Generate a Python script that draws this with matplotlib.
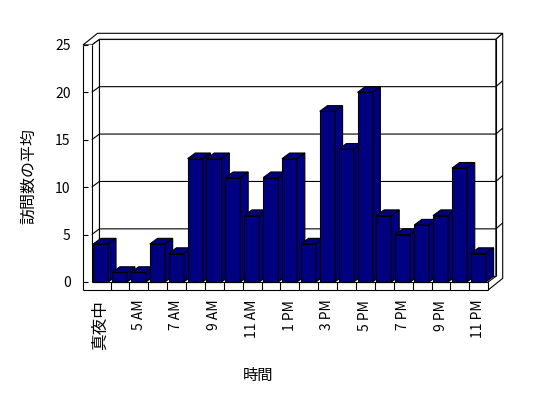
import numpy as np
import matplotlib
matplotlib.use("Agg")
import matplotlib.pyplot as plt
from matplotlib.patches import Polygon

plt.rcParams['font.family'] = ['Noto Sans CJK JP', 'DejaVu Sans']

# data: average visits per hour
hours = ['真夜中', '4 AM', '5 AM', '6 AM', '7 AM', '8 AM', '9 AM', '10 AM', '11 AM',
         '12 PM', '1 PM', '2 PM', '3 PM', '4 PM', '5 PM', '6 PM', '7 PM', '8 PM',
         '9 PM', '10 PM', '11 PM']
visits = [4, 1, 1, 4, 3, 13, 13, 11, 7, 11, 13, 4, 18, 14, 20, 7, 5, 6, 7, 12, 3]
yticks = [0, 5, 10, 15, 20, 25]

n = len(hours)
ymax = 25
# fake 3d offsets (data units)
Dx, Dy = 0.41, 0.60    # depth
Tx, Ty = 0.36, 0.63    # back wall thickness
W = 0.46               # left wall thickness
F = 0.85               # floor thickness
navy = '#000080'
lw = 0.8

fig = plt.figure(figsize=(5.48, 3.98), dpi=100)
ax = fig.add_axes([83/548, 1 - 290/398, (502.7 - 83)/548, (290 - 33.3)/398])
ax.set_xlim(-W, n + Dx + Tx)
ax.set_ylim(-F, ymax + Dy + Ty)
for s in ax.spines.values():
    s.set_visible(False)


def poly(pts, fc='white', z=1):
    ax.add_patch(Polygon(pts, closed=True, facecolor=fc, edgecolor='black',
                         linewidth=lw, zorder=z, clip_on=False))


def seg(xs, ys, z=2):
    ax.plot(xs, ys, color='black', lw=lw, zorder=z, clip_on=False,
            solid_capstyle='butt')


# walls and floor
poly([(Dx, Dy), (n + Dx, Dy), (n + Dx, ymax + Dy), (Dx, ymax + Dy)])          # back wall
poly([(0, 0), (Dx, Dy), (Dx, ymax + Dy), (0, ymax)])                          # left wall inner
poly([(-W, ymax), (0, ymax), (Dx, ymax + Dy), (n + Dx, ymax + Dy),
      (n + Dx + Tx, ymax + Dy + Ty), (-W + Dx + Tx, ymax + Dy + Ty)])          # top edges
poly([(n, -F), (n + Dx + Tx, -F + Dy + Ty), (n + Dx + Tx, ymax + Dy + Ty),
      (n + Dx, ymax + Dy), (n + Dx, Dy), (n, 0)])                              # right side
ax.add_patch(Polygon([(-W, -F), (n, -F), (n, 0), (0, 0), (0, ymax), (-W, ymax)],
                     closed=True, facecolor='white', edgecolor='none', zorder=1))
seg([-W, -W], [-F, ymax])
seg([-W, n], [-F, -F])
seg([0, 0], [0, ymax])
seg([0, n], [0, 0])
seg([n, n], [-F, 0])
for i in range(1, n):
    seg([i, i], [-F, 0])
seg([n + Dx, n + Dx], [Dy, ymax + Dy])

# gridlines on walls
for v in yticks[1:-1]:
    seg([0, Dx, n + Dx, n + Dx + Tx], [v, v + Dy, v + Dy, v + Dy + Ty], z=1.5)

# bars
for i, v in enumerate(visits):
    x0, x1 = i + 0.08, i + 0.88
    z = 3 + i * 0.01
    poly([(x0, 0), (x1, 0), (x1, v), (x0, v)], fc=navy, z=z)
    poly([(x0, v), (x1, v), (x1 + Dx, v + Dy), (x0 + Dx, v + Dy)], fc=navy, z=z)
    poly([(x1, 0), (x1 + Dx, Dy), (x1 + Dx, v + Dy), (x1, v)], fc=navy, z=z)

# axes ticks and labels
ax.set_yticks(yticks)
ax.set_yticklabels([str(t) for t in yticks])
ax.tick_params(axis='y', direction='in', length=3.6, width=lw, pad=9, labelsize=10)
pos = np.arange(n) + 0.48
ax.set_xticks(pos[::2])
ax.set_xticklabels(hours[::2], rotation=90, va='top', ha='center')
ax.tick_params(axis='x', length=0, pad=7, labelsize=10)
for lab in ax.get_xticklabels():
    if lab.get_text() == '真夜中':
        lab.set_fontsize(12)

ax.set_xlabel('時間', fontsize=11)
ax.xaxis.set_label_coords(0.417, -0.30)
ax.set_ylabel('訪問数の平均', fontsize=11.5)
ax.yaxis.set_label_coords(-0.11, 0.444)

fig.savefig('out.png', dpi=100)
